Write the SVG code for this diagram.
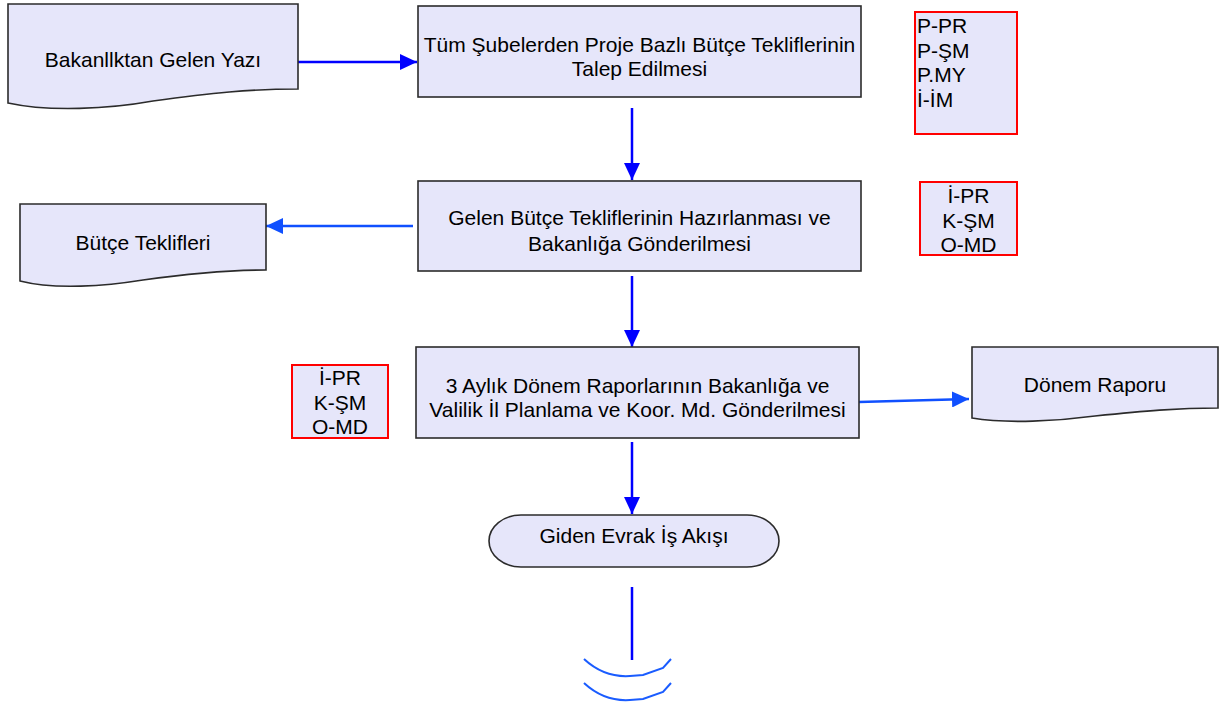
<svg xmlns="http://www.w3.org/2000/svg" width="1228" height="706" viewBox="0 0 1228 706">
<style>
  text { font-family: "Liberation Sans", Arial, sans-serif; font-size: 21px; fill: #000; }
  .c { text-anchor: middle; }
  .shape { fill: #E6E6FA; stroke: #2b2b2b; stroke-width: 1.6; }
  .tag { fill: #E6E6FA; stroke: #FF0000; stroke-width: 2; }
  .con { fill: none; stroke: #0000FF; stroke-width: 2.5; }
  .con2 { fill: none; stroke: #1050FF; stroke-width: 2.5; }
  .arc { fill: none; stroke: #1A5CFF; stroke-width: 2; }
</style>
<defs>
  <marker id="ah" markerUnits="userSpaceOnUse" markerWidth="18" markerHeight="16" refX="17" refY="8" orient="auto">
    <path d="M0,0 L17,8 L0,16 Z" fill="#0000FF"/>
  </marker>
  <marker id="ah2" markerUnits="userSpaceOnUse" markerWidth="18" markerHeight="16" refX="17" refY="8" orient="auto">
    <path d="M0,0 L17,8 L0,16 Z" fill="#1050FF"/>
  </marker>
</defs>

<g id="connectors">
  <line class="con" x1="298" y1="62" x2="417" y2="62" marker-end="url(#ah)"/>
  <line class="con" x1="632" y1="108" x2="632" y2="180" marker-end="url(#ah)"/>
  <line class="con2" x1="413" y1="226" x2="266" y2="226" marker-end="url(#ah2)"/>
  <line class="con" x1="632" y1="276" x2="632" y2="347" marker-end="url(#ah)"/>
  <line class="con2" x1="859" y1="402" x2="969" y2="399" marker-end="url(#ah2)"/>
  <line class="con" x1="632" y1="442" x2="632" y2="514" marker-end="url(#ah)"/>
  <line class="con" x1="632" y1="587" x2="632" y2="660" stroke-width="2"/>
  <path class="arc" d="M584,659 C598,672 615,677 630,676 L643,675 L663,668 L671,659"/>
  <path class="arc" d="M584,683 C598,696 615,701 630,700 L643,699 L663,692 L671,683"/>
</g>

<g id="doc-bakanlik">
  <path class="shape" d="M8,4 H298 V89 C250,89 211,93 153,101 C109,109 49,112 8,103 Z"/>
  <text class="c" x="153" y="67">Bakanllktan Gelen Yazı</text>
</g>

<g id="proc-talep">
  <rect class="shape" x="418" y="6" width="443" height="91"/>
  <text class="c" x="639.5" y="52">Tüm Şubelerden Proje Bazlı Bütçe Tekliflerinin</text>
  <text class="c" x="639.5" y="76">Talep Edilmesi</text>
</g>

<g id="tag-1">
  <rect class="tag" x="915" y="12" width="102" height="122"/>
  <text x="917" y="33">P-PR</text>
  <text x="917" y="58">P-ŞM</text>
  <text x="917" y="82">P.MY</text>
  <text x="917" y="107">İ-İM</text>
</g>

<g id="doc-butce">
  <path class="shape" d="M20,204 H266 V270 C225,270 192,273 143,280 C106,286 55,290 20,281 Z"/>
  <text class="c" x="143" y="250">Bütçe Teklifleri</text>
</g>

<g id="proc-hazirlanma">
  <rect class="shape" x="418" y="181" width="443" height="90"/>
  <text class="c" x="639.5" y="225">Gelen Bütçe Tekliflerinin Hazırlanması ve</text>
  <text class="c" x="639.5" y="251">Bakanlığa Gönderilmesi</text>
</g>

<g id="tag-2">
  <rect class="tag" x="920" y="182" width="97" height="73"/>
  <text class="c" x="968.5" y="203">İ-PR</text>
  <text class="c" x="968.5" y="228">K-ŞM</text>
  <text class="c" x="968.5" y="252">O-MD</text>
</g>

<g id="tag-3">
  <rect class="tag" x="292" y="365" width="96" height="73"/>
  <text class="c" x="340" y="385">İ-PR</text>
  <text class="c" x="340" y="410">K-ŞM</text>
  <text class="c" x="340" y="434">O-MD</text>
</g>

<g id="proc-rapor">
  <rect class="shape" x="416" y="347" width="443" height="91"/>
  <text class="c" x="637.5" y="393">3 Aylık Dönem Raporlarının Bakanlığa ve</text>
  <text class="c" x="637.5" y="417">Valilik İl Planlama ve Koor. Md. Gönderilmesi</text>
</g>

<g id="doc-donem">
  <path class="shape" d="M972,347 H1218 V408 C1177,408 1144,411 1095,416 C1058,421 1007,424 972,418 Z"/>
  <text class="c" x="1095" y="392">Dönem Raporu</text>
</g>

<g id="term-giden">
  <rect class="shape" x="489" y="515" width="290" height="52" rx="32" ry="26"/>
  <text class="c" x="634" y="543">Giden Evrak İş Akışı</text>
</g>
</svg>
